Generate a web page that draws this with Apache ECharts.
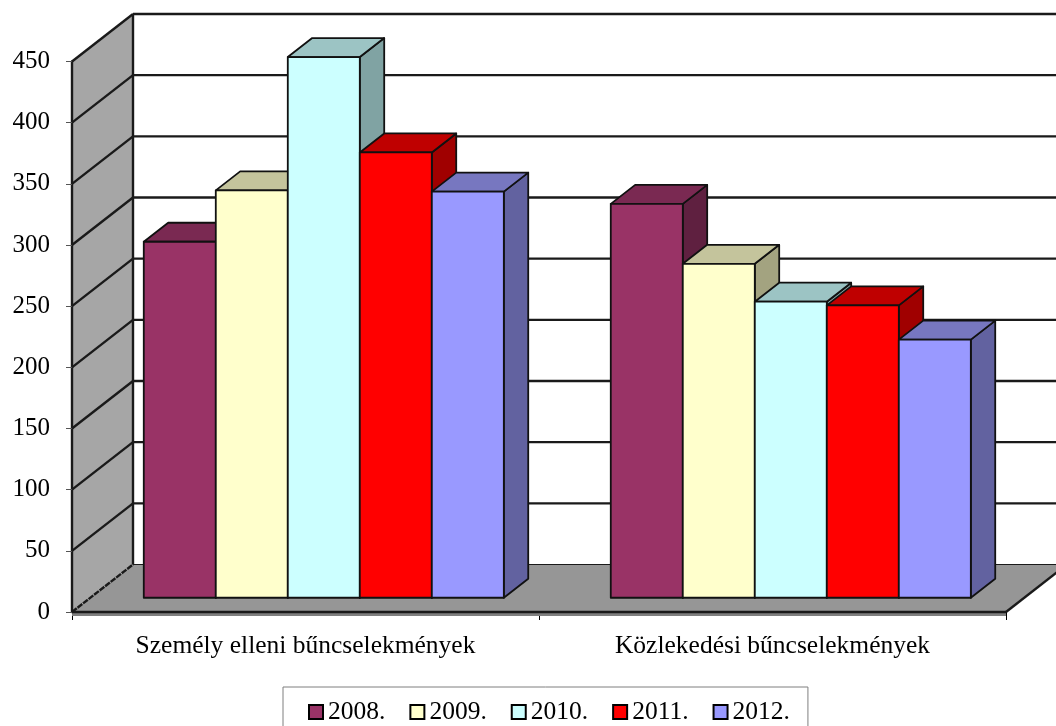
<!DOCTYPE html>
<html>
<head>
<meta charset="utf-8">
<title>Bűncselekmények</title>
<script src="https://cdn.jsdelivr.net/npm/echarts@6/dist/echarts.min.js"></script>
<style>
  html, body { margin: 0; padding: 0; background: #fff; overflow: hidden; }
  #myChart { width: 1056px; height: 726px; }
</style>
</head>
<body>
<div id="myChart"></div>
<script>
  // adatok
  var categories = ['Személy elleni bűncselekmények', 'Közlekedési bűncselekmények']
  var years = ['2008.', '2009.', '2010.', '2011.', '2012.']
  var v2008 = [291, 322]
  var v2009 = [333, 273]
  var v2010 = [442, 242]
  var v2011 = [364, 239]
  var v2012 = [332, 211]
  var yTicks = [0, 50, 100, 150, 200, 250, 300, 350, 400, 450]

  var allValues = [v2008, v2009, v2010, v2011, v2012]
  var frontColors = ['#993366', '#ffffcc', '#ccffff', '#ff0000', '#9999ff']
  var topColors = ['#7a2952', '#c4c49c', '#9cc4c4', '#bf0000', '#7777c0']
  var sideColors = ['#5f2040', '#a3a380', '#80a3a3', '#a00000', '#6262a0']

  // 3D look: how far the back wall is shifted from the front plane
  var DX = 61
  var DY = 47.5
  var BAR_FRONT = 0.3 // bar front face, share of the depth
  var BAR_DEPTH = 0.4 // bar depth, share of the depth
  var BAR_SHARE = 0.771 // bar group width, share of the band
  var LINE = { stroke: '#1a1a1a', lineWidth: 2.4 }

  function poly(points, fill, lineWidth) {
    return {
      type: 'polygon',
      shape: { points: points },
      style: { fill: fill, stroke: '#111', lineWidth: lineWidth, lineJoin: 'round' }
    }
  }

  function line(a, b, dash) {
    return {
      type: 'polyline',
      shape: { points: [a, b] },
      style: { stroke: LINE.stroke, lineWidth: LINE.lineWidth, fill: null, lineDash: dash || null }
    }
  }

  // side wall, floor and its front strip
  function renderWalls(params, api) {
    var a = api.coord([0, 0])
    var band = api.size([1, 0])[0]
    var x0 = a[0] - band / 2
    var x1 = x0 + band * categories.length
    var y0 = a[1]
    var yTop = api.coord([0, yTicks[yTicks.length - 1]])[1]
    return {
      type: 'group',
      children: [
        {
          type: 'polygon',
          shape: { points: [[x0, y0], [x0 + DX, y0 - DY], [x0 + DX, yTop - DY], [x0, yTop]] },
          style: { fill: '#a6a6a6' }
        },
        {
          type: 'polygon',
          shape: { points: [[x0, y0], [x1, y0], [x1 + DX, y0 - DY], [x0 + DX, y0 - DY]] },
          style: { fill: '#969696' }
        },
        {
          type: 'rect',
          shape: { x: x0, y: y0, width: x1 - x0, height: 4 },
          style: { fill: '#7f7f7f' }
        },
        line([x0 + DX, yTop - DY], [x0 + DX, y0 - DY]),
        line([x0, y0], [x1, y0]),
        line([x1, y0], [x1 + DX, y0 - DY])
      ]
    }
  }

  // lines going over the side wall and along the back wall
  function renderGridLine(params, api) {
    var a = api.coord([0, api.value(0)])
    var band = api.size([1, 0])[0]
    var x0 = a[0] - band / 2
    var x1 = x0 + band * categories.length
    var y = a[1]
    var isFloor = api.value(0) === 0
    return {
      type: 'group',
      children: [
        line([x0, y], [x0 + DX, y - DY], isFloor ? [6, 1] : null),
        {
          type: 'polyline',
          shape: { points: [[x0 + DX, y - DY], [x1 + DX, y - DY]] },
          style: { stroke: LINE.stroke, lineWidth: isFloor ? 1 : LINE.lineWidth, fill: null }
        }
      ]
    }
  }

  function makeBarRender(idx) {
    return function(params, api) {
      var p = api.coord([api.value(0), api.value(1)])
      var band = api.size([1, 0])[0]
      var base = api.coord([api.value(0), 0])[1]
      var w = band * BAR_SHARE / years.length
      var left = p[0] + DX * BAR_FRONT - w * years.length / 2 + idx * w
      var right = left + w
      var bottom = base - DY * BAR_FRONT
      var top = p[1] - DY * BAR_FRONT
      var dx = DX * BAR_DEPTH
      var dy = DY * BAR_DEPTH
      return {
        type: 'group',
        children: [
          poly([[right, bottom], [right + dx, bottom - dy], [right + dx, top - dy], [right, top]], sideColors[idx], 1.8),
          poly([[left, top], [right, top], [right + dx, top - dy], [left + dx, top - dy]], topColors[idx], 1.8),
          poly([[left, bottom], [right, bottom], [right, top], [left, top]], frontColors[idx], 1.8)
        ]
      }
    }
  }

  var series = [
    {
      name: 'walls',
      type: 'custom',
      silent: true,
      z: 1,
      data: [[0]],
      renderItem: renderWalls
    },
    {
      name: 'grid',
      type: 'custom',
      silent: true,
      z: 2,
      data: yTicks.map(function(t) { return [t] }),
      encode: { y: 0 },
      renderItem: renderGridLine
    }
  ]
  years.forEach(function(year, i) {
    series.push({
      name: year,
      type: 'custom',
      z: 3,
      itemStyle: { color: frontColors[i], borderColor: '#000', borderWidth: 2 },
      encode: { x: 0, y: 1 },
      data: allValues[i].map(function(v, c) { return [c, v] }),
      renderItem: makeBarRender(i)
    })
  })

  var myChart = echarts.init(document.getElementById('myChart'))
  var option = {
    animation: false,
    backgroundColor: '#fff',
    textStyle: { fontFamily: 'Liberation Serif' },
    grid: { left: 72, top: 61.5, width: 934, height: 550.5 },
    legend: {
      data: years,
      left: 283,
      top: 687,
      icon: 'rect',
      itemWidth: 14,
      itemHeight: 14,
      itemGap: 24,
      padding: [12, 18, 40, 25],
      borderColor: '#7f7f7f',
      borderWidth: 1,
      selectedMode: false,
      itemStyle: { borderColor: '#000', borderWidth: 2 },
      textStyle: { fontFamily: 'Liberation Serif', fontSize: 25.5, color: '#000' }
    },
    xAxis: {
      type: 'category',
      data: categories,
      axisLine: { show: false },
      axisTick: { show: true, length: 8, lineStyle: { color: '#000', width: 1 } },
      axisLabel: { margin: 21, fontFamily: 'Liberation Serif', fontSize: 25.5, color: '#000' }
    },
    yAxis: {
      type: 'value',
      min: 0,
      max: 450,
      interval: 50,
      z: 5,
      splitLine: { show: false },
      axisLine: { show: true, lineStyle: { color: '#1a1a1a', width: 2.4 } },
      axisTick: { show: true, length: 6, lineStyle: { color: '#555', width: 1 } },
      axisLabel: { margin: 22, fontFamily: 'Liberation Serif', fontSize: 25, color: '#000' }
    },
    series: series
  }
  myChart.setOption(option)
</script>
</body>
</html>
